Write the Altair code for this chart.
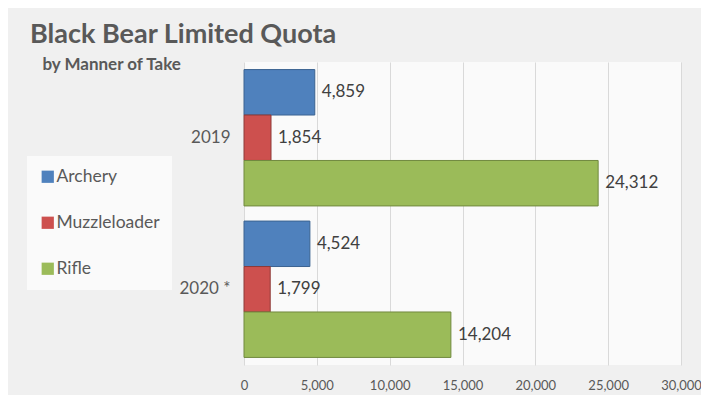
import altair as alt
import pandas as pd

years = ["2019", "2020 *"]
methods = ["Archery", "Muzzleloader", "Rifle"]
archery = [4859, 4524]
muzzleloader = [1854, 1799]
rifle = [24312, 14204]
x_ticks = [0, 5000, 10000, 15000, 20000, 25000, 30000]

fills = ["#4f81bd", "#cd504e", "#9bbb59"]
strokes = ["#3b6391", "#8e3a38", "#71893f"]

rows = []
for i, y in enumerate(years):
    for m, vals in zip(methods, [archery, muzzleloader, rifle]):
        rows.append({"Year": y, "Method": m, "Count": vals[i]})
df = pd.DataFrame(rows)

FONT = "Lato"
TXT = "#595959"

x_enc = alt.X(
    "Count:Q",
    scale=alt.Scale(domain=[0, 30000], nice=False),
    axis=alt.Axis(
        title=None, values=x_ticks, format=",d", labelFontSize=13, labelFont=FONT,
        labelColor=TXT, labelPadding=14, ticks=False, domain=False, labelFlush=False,
        gridColor="#d9d9d9", gridWidth=1,
    ),
)

base = alt.Chart(df).encode(
    x=x_enc,
    y=alt.Y(
        "Year:N",
        sort=years,
        scale=alt.Scale(paddingInner=0.1, paddingOuter=0.05),
        axis=alt.Axis(
            title=None, labelFontSize=17, labelFont=FONT, labelColor=TXT,
            labelPadding=14, ticks=False, domain=False,
        ),
    ),
    yOffset=alt.YOffset("Method:N", sort=methods, scale=alt.Scale(paddingInner=0, paddingOuter=0)),
)

bars = base.mark_bar(strokeWidth=1).encode(
    color=alt.Color(
        "Method:N",
        sort=methods,
        scale=alt.Scale(domain=methods, range=fills),
        legend=alt.Legend(
            orient="none", legendX=-217, legendY=94, title=None,
            fillColor="#fafafa", padding=12, rowPadding=27,
            symbolType="square", symbolSize=150, symbolStrokeWidth=0,
            labelFontSize=17.5, labelFont=FONT, labelColor=TXT, labelOffset=0,
        ),
    ),
    stroke=alt.Stroke("Method:N", sort=methods, scale=alt.Scale(domain=methods, range=strokes), legend=None),
)

labels = base.mark_text(align="left", baseline="middle", dx=7, fontSize=17, font=FONT, color="#404040").encode(
    text=alt.Text("Count:Q", format=","),
)

chart = alt.layer(bars, labels).properties(
    width=437,
    height=303,
    padding={"left": 236, "top": 54, "right": 20, "bottom": 30},
    autosize=alt.AutoSizeParams(type="none"),
    background="#f0f0f0",
    title=alt.TitleParams(
        text="Black Bear Limited Quota",
        subtitle="\u200b\u00a0\u00a0\u00a0by Manner of Take",
        anchor="start", frame="group", dx=-214, offset=-12,
        font=FONT, fontSize=27, fontWeight="bold", color=TXT,
        subtitleFont=FONT, subtitleFontSize=17, subtitleFontWeight="bold",
        subtitleColor=TXT, subtitlePadding=8,
    ),
).configure_view(fill="#fafafa", stroke=None)

chart.save("out.html", embed_options={"renderer": "svg", "actions": False})
